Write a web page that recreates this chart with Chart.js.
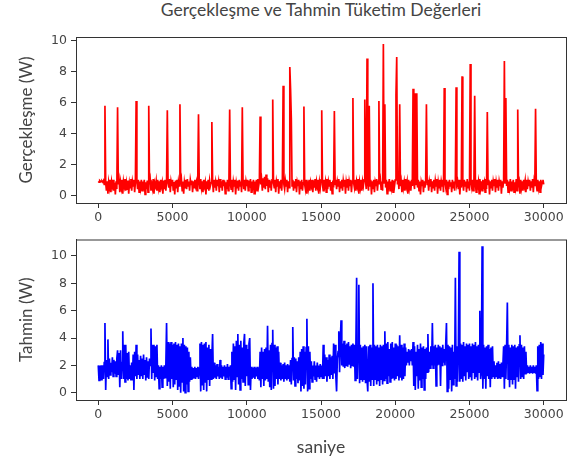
<!DOCTYPE html>
<html>
<head>
<meta charset="utf-8">
<script src="https://cdn.jsdelivr.net/npm/chart.js@4.4.1/dist/chart.umd.min.js"></script>
<style>
  body { margin: 0; background: #fff; }
  #wrap { position: relative; width: 569px; height: 461px; }
  #title {
    position: absolute; left: 76px; width: 490px; top: -1px;
    text-align: center; font: 17.5px Lato, "Open Sans", sans-serif; color: #444;
  }
  canvas { position: absolute; left: 0; }
  #realChart { top: 0; }
  #predChart { top: 228px; }
</style>
</head>
<body>
<div id="wrap">
  <div id="title">Gerçekleşme ve Tahmin Tüketim Değerleri</div>
  <canvas id="realChart" width="569" height="228"></canvas>
  <canvas id="predChart" width="569" height="233"></canvas>
</div>
<script>
// Data: one sample every 50 s (20 per row = 1000 s)
const STEP = 50;

const realValues = [
  0.9, 0.85, 0.95, 0.9, 0.88, 0.92, 0.85, 0.95, 0.7, 5.8, 0.8, 0.3, 0.9, 0.1, 0.85, 0.5, 1.0, 0.2, 0.9, 0.6,
  1.0, 0.3, 0.8, 0.05, 0.9, 0.4, 5.7, 0.7, 1.0, 0.2, 0.85, 0.5, 1.0, 0.1, 0.9, 0.6, 1.05, 0.3, 0.8, 0.4,
  0.95, 0.1, 0.8, 0.5, 1.05, 0.3, 0.9, 0.6, 1.0, 0.2, 0.85, 6.1, 0.9, 0.4, 1.0, 0.2, 0.9, 0.5, 1.0, 0.3,
  0.9, 0.6, 1.0, 0.05, 0.85, 0.4, 0.95, 0.2, 5.8, 0.7, 1.0, 0.3, 0.9, 0.5, 1.05, 0.1, 0.8, 0.6, 0.95, 0.3,
  1.0, 0.5, 0.9, 0.2, 1.0, 0.6, 0.85, 0.1, 0.95, 0.4, 1.0, 0.3, 0.9, 5.5, 0.8, 0.5, 1.05, 0.2, 0.9, 0.6,
  1.0, 0.3, 0.85, 0.05, 0.95, 0.5, 1.0, 0.2, 0.9, 0.6, 5.9, 0.7, 1.0, 0.3, 0.9, 0.1, 0.85, 0.5, 1.0, 0.4,
  1.05, 0.6, 0.9, 0.3, 1.0, 0.7, 0.95, 0.2, 0.9, 0.5, 1.0, 0.6, 0.85, 0.3, 1.0, 5.25, 0.8, 0.4, 1.05, 0.5,
  0.9, 0.2, 1.0, 0.6, 0.85, 0.05, 0.9, 0.4, 1.0, 0.3, 0.95, 0.6, 0.8, 4.75, 0.9, 0.2, 1.0, 0.5, 0.85, 0.3,
  1.0, 0.6, 0.9, 0.2, 1.05, 0.5, 0.9, 0.3, 1.0, 0.6, 0.95, 0.1, 0.85, 0.4, 1.0, 0.3, 0.9, 5.55, 0.7, 0.4,
  1.0, 0.2, 0.9, 0.6, 1.0, 0.05, 0.8, 0.5, 0.95, 0.3, 1.0, 0.6, 0.9, 0.2, 5.7, 0.8, 0.4, 1.0, 0.3, 0.9,
  0.6, 1.0, 0.3, 0.95, 0.5, 1.05, 0.2, 0.9, 0.6, 1.0, 0.1, 0.9, 0.5, 1.0, 0.3, 1.05, 0.6, 0.9, 5.1, 0.7,
  1.0, 0.3, 1.1, 0.5, 1.2, 0.4, 1.35, 0.6, 1.1, 0.2, 1.0, 0.5, 0.9, 0.3, 1.0, 6.2, 0.8, 0.5, 1.0, 0.2,
  0.9, 0.6, 1.05, 0.1, 0.9, 0.5, 1.0, 0.3, 1.05, 7.1, 0.7, 0.4, 0.95, 0.6, 1.0, 0.2, 0.9, 0.5, 8.3, 6.9,
  5.0, 0.6, 1.0, 0.3, 0.9, 0.5, 1.05, 0.2, 0.85, 0.6, 1.0, 0.05, 0.9, 0.4, 1.0, 0.3, 0.8, 5.75, 0.7, 0.4,
  1.0, 0.1, 0.9, 0.5, 1.0, 0.3, 0.85, 0.6, 1.0, 0.2, 0.95, 0.5, 1.05, 0.3, 0.9, 0.6, 1.0, 0.1, 0.85, 0.5,
  1.0, 5.5, 0.7, 0.3, 1.0, 0.6, 0.9, 0.2, 1.05, 0.4, 0.9, 0.6, 1.0, 0.3, 0.85, 0.1, 0.95, 0.5, 5.45, 0.7,
  1.0, 0.4, 0.9, 0.6, 1.05, 0.2, 0.9, 0.5, 1.0, 0.3, 0.95, 0.6, 1.0, 0.1, 0.85, 0.5, 1.05, 0.3, 0.9, 0.6,
  1.0, 0.2, 0.9, 6.3, 0.8, 0.5, 1.0, 0.3, 0.9, 0.6, 1.05, 0.1, 0.85, 0.5, 1.0, 0.3, 0.9, 0.6, 1.0, 6.2,
  0.9, 0.4, 8.85, 0.8, 0.3, 5.8, 0.6, 1.0, 0.05, 0.9, 0.4, 1.0, 0.2, 0.85, 0.6, 1.05, 0.3, 0.9, 6.1, 0.7,
  1.0, 0.4, 0.9, 0.3, 9.8, 0.8, 5.9, 0.5, 1.0, 0.1, 0.9, 0.6, 1.05, 0.3, 0.9, 0.5, 1.0, 0.2, 0.95, 0.6,
  1.0, 6.5, 8.95, 0.7, 1.0, 0.4, 5.9, 0.6, 0.9, 0.2, 1.0, 0.5, 0.85, 0.3, 1.05, 0.6, 0.9, 0.1, 1.0, 0.5,
  0.9, 0.3, 1.0, 0.6, 6.9, 0.8, 0.4, 6.6, 0.7, 6.6, 0.5, 1.0, 0.3, 0.9, 0.05, 0.85, 0.6, 1.0, 0.2, 0.9,
  0.5, 1.0, 5.9, 0.7, 1.0, 0.3, 0.9, 0.6, 1.05, 0.2, 0.9, 0.5, 1.0, 0.3, 0.95, 0.6, 1.05, 0.1, 0.85, 0.5,
  1.0, 0.3, 0.9, 0.6, 1.0, 0.2, 6.95, 0.8, 0.5, 1.0, 0.05, 0.9, 0.4, 1.0, 0.6, 0.85, 0.2, 1.0, 0.5, 0.9,
  0.3, 1.0, 7.0, 0.7, 0.9, 0.4, 1.0, 0.05, 0.85, 0.5, 7.7, 0.8, 0.3, 1.0, 0.6, 0.9, 0.2, 1.05, 0.5, 0.9,
  0.3, 8.5, 0.8, 0.5, 1.0, 0.3, 0.95, 6.45, 0.7, 0.2, 1.0, 0.6, 0.9, 0.1, 1.05, 0.5, 0.9, 0.3, 1.0, 0.6,
  0.85, 0.2, 1.05, 0.4, 5.4, 0.7, 1.0, 0.05, 0.9, 0.5, 1.0, 0.3, 0.9, 0.6, 1.05, 0.2, 0.85, 0.5, 1.0, 0.3,
  0.9, 0.6, 1.0, 0.1, 0.9, 0.5, 1.0, 8.7, 0.8, 6.3, 0.6, 1.0, 0.2, 0.9, 0.5, 1.05, 0.3, 0.9, 0.6, 1.0,
  0.2, 0.85, 0.5, 1.05, 0.3, 5.55, 0.7, 0.9, 0.1, 1.0, 0.5, 0.9, 0.3, 1.0, 0.6, 0.95, 0.2, 1.0, 0.4, 0.9,
  0.6, 1.0, 0.3, 0.9, 0.5, 1.05, 0.2, 0.9, 0.6, 5.6, 0.7, 0.3, 1.0, 0.5, 0.9, 0.2, 1.0, 0.6, 0.85, 1.0,
  0.7
];

const predValues = [
  2.0, 0.9, 2.0, 0.9, 2.0, 0.9, 2.0, 1.0, 2.2, 5.1, 0.2, 2.4, 1.2, 3.9, 1.0, 2.5, 1.3, 2.2, 1.5, 2.6,
  1.2, 2.4, 1.4, 2.3, 1.2, 2.5, 3.1, 1.3, 2.9, 0.4, 3.1, 1.0, 2.2, 4.5, 1.0, 3.5, 0.8, 3.5, 1.0, 2.9,
  0.9, 3.0, 1.0, 2.0, 0.9, 2.2, 0.9, 2.8, 0.2, 3.0, 1.2, 3.5, 1.0, 2.8, 1.3, 2.4, 1.0, 2.7, 1.2, 2.5,
  1.0, 2.8, 1.3, 2.4, 0.9, 2.6, 1.1, 2.3, 1.0, 2.5, 2.0, 4.7, 1.0, 3.5, 1.5, 3.5, 0.9, 3.4, 1.2, 3.5,
  1.0, 2.0, 0.3, 1.9, 1.0, 2.0, 0.4, 1.9, 1.0, 2.0, 1.1, 1.9, 5.1, 0.5, 3.7, 0.8, 3.6, 0.3, 3.7, 1.0,
  3.5, 0.4, 3.6, 0.6, 3.7, 1.0, 3.5, 0.2, 3.6, 0.5, 3.4, 0.0, 3.6, 0.8, 4.0, 0.1, 3.5, 0.0, 3.4, 0.6,
  3.3, 0.1, 3.0, 0.8, 2.6, 1.0, 1.9, 1.0, 1.8, 1.1, 1.9, 1.0, 1.8, 1.2, 1.9, 1.0, 1.8, 3.6, 0.1, 3.7,
  0.6, 3.5, 0.2, 3.6, 0.8, 3.7, 0.1, 3.3, 1.0, 3.5, 0.5, 3.2, 1.0, 2.6, 4.3, 1.0, 2.2, 1.1, 2.0, 1.0,
  2.1, 1.2, 1.9, 1.0, 2.4, 1.1, 2.0, 1.0, 1.9, 1.2, 2.0, 1.0, 1.9, 1.1, 2.1, 1.0, 1.9, 1.2, 2.0, 0.3,
  3.0, 0.8, 3.6, 1.0, 3.4, 0.2, 3.8, 1.2, 4.3, 0.6, 3.5, 0.2, 3.8, 1.0, 3.3, 0.8, 3.6, 4.3, 0.5, 3.5,
  1.2, 3.2, 0.6, 3.6, 4.0, 0.2, 1.9, 1.0, 1.8, 1.1, 1.9, 1.0, 1.8, 1.2, 1.9, 1.0, 1.8, 0.9, 3.0, 0.4,
  3.3, 1.0, 3.0, 0.5, 3.2, 0.9, 3.3, 1.0, 4.9, 0.8, 3.1, 0.4, 3.5, 0.2, 3.6, 4.6, 0.3, 3.5, 0.5, 3.3,
  1.0, 3.4, 0.6, 3.0, 1.0, 2.2, 0.9, 2.0, 1.0, 2.1, 0.8, 2.2, 1.0, 2.0, 0.9, 2.1, 1.0, 2.0, 0.8, 2.4,
  0.6, 2.5, 4.8, 0.9, 2.6, 0.5, 2.5, 1.0, 2.3, 0.7, 2.6, 0.9, 3.0, 0.1, 3.2, 0.5, 3.4, 0.3, 3.0, 0.6,
  3.3, 5.4, 0.1, 3.4, 0.3, 3.0, 1.0, 2.3, 0.8, 2.0, 1.2, 2.3, 1.0, 2.0, 0.8, 2.2, 1.2, 2.0, 1.0, 2.1,
  1.2, 2.0, 1.0, 3.5, 1.0, 2.8, 1.2, 2.6, 0.8, 2.4, 1.2, 2.8, 1.0, 2.6, 1.3, 2.7, 1.0, 3.6, 1.4, 3.5,
  1.2, 0.1, 2.5, 3.0, 4.5, 1.5, 3.8, 5.3, 2.0, 3.6, 1.9, 3.8, 1.8, 3.5, 2.0, 3.6, 1.9, 3.7, 2.1, 3.4,
  1.8, 3.5, 2.0, 3.6, 1.9, 3.5, 0.9, 3.3, 8.4, 1.0, 3.4, 7.9, 0.7, 3.5, 1.0, 3.3, 0.8, 3.4, 1.0, 3.5,
  0.7, 3.4, 1.0, 0.1, 3.4, 0.8, 3.5, 0.5, 3.3, 1.0, 8.0, 0.5, 3.5, 1.0, 3.4, 0.6, 3.5, 0.9, 3.3, 0.5,
  3.5, 1.0, 3.4, 0.6, 3.5, 0.9, 4.5, 1.0, 3.6, 0.7, 3.7, 1.2, 3.2, 0.8, 3.6, 1.0, 3.7, 1.1, 3.3, 0.9,
  3.6, 1.0, 3.5, 1.2, 3.4, 0.9, 4.2, 1.1, 3.5, 0.9, 3.3, 1.0, 3.6, 1.2, 3.3, 2.0, 3.0, 2.2, 3.2, 2.0,
  3.1, 2.3, 3.2, 2.0, 3.7, 0.5, 3.4, 0.2, 3.0, 1.2, 3.5, 0.3, 3.2, 0.9, 3.6, 0.4, 3.3, 1.0, 3.4, 0.2,
  3.2, 1.0, 3.3, 1.5, 4.3, 1.5, 3.0, 1.8, 3.4, 2.0, 5.1, 1.8, 3.4, 2.0, 3.5, 0.5, 3.3, 2.0, 3.5, 2.1,
  3.4, 0.5, 3.3, 2.0, 3.5, 2.2, 3.2, 2.0, 3.5, 5.1, 0.1, 3.5, 0.3, 3.4, 1.0, 3.3, 0.1, 3.5, 0.6, 3.0,
  1.0, 8.4, 0.5, 3.4, 0.8, 3.0, 10.3, 0.8, 3.6, 1.0, 3.5, 0.8, 3.7, 1.2, 3.4, 0.9, 3.6, 1.5, 3.5, 1.0,
  3.6, 1.2, 3.4, 0.9, 3.6, 1.5, 3.5, 1.0, 3.7, 1.2, 3.4, 0.9, 3.5, 1.5, 6.0, 1.0, 1.5, 10.7, 0.3, 3.5,
  1.0, 3.3, 0.3, 3.4, 1.2, 3.5, 1.0, 3.2, 0.4, 3.3, 1.0, 3.4, 1.2, 2.3, 1.0, 2.0, 1.2, 2.2, 1.0, 2.3,
  1.1, 2.1, 1.0, 2.2, 1.2, 2.0, 3.4, 0.3, 3.5, 1.0, 3.3, 6.6, 1.0, 3.5, 0.4, 3.3, 1.0, 3.5, 0.6, 3.4,
  1.0, 3.5, 0.3, 3.3, 1.2, 3.4, 0.8, 3.5, 4.2, 1.0, 3.5, 1.2, 3.3, 1.0, 3.4, 1.4, 3.0, 1.4, 2.0, 1.5,
  1.9, 1.4, 2.0, 1.5, 1.9, 1.4, 2.0, 1.5, 1.9, 1.4, 2.0, 0.15, 3.4, 1.0, 3.5, 1.2, 3.7, 1.0, 3.6, 1.3,
  2.8
];

const seconds = realValues.map((_, i) => i * STEP);
const xTicks = [0, 5000, 10000, 15000, 20000, 25000, 30000];
const realTicks = [0, 2, 4, 6, 8, 10];
const predTicks = [0, 2, 4, 6, 8, 10];

const AXIS_COLOR = "#333";
const TEXT_COLOR = "#444";

// Draws the full box round the plot area
const framePlugin = {
  id: "frame",
  afterDraw(chart) {
    const { ctx, chartArea: a } = chart;
    ctx.save();
    ctx.strokeStyle = AXIS_COLOR;
    ctx.lineWidth = 1;
    ctx.strokeRect(a.left + 0.5, a.top + 0.5, a.right - a.left, a.bottom - a.top);
    ctx.restore();
  },
};

const makeChart = (elementId, values, color, yLabel, yTicks, yMin, yMax, opts) => {
  const ctx = document.getElementById(elementId).getContext("2d");
  return new Chart(ctx, {
    type: "line",
    data: {
      datasets: [
        {
          data: values.map((v, i) => ({ x: seconds[i], y: v })),
          borderColor: color,
          borderWidth: 1.7,
          pointRadius: 0,
          tension: 0,
        },
      ],
    },
    options: {
      responsive: false,
      animation: false,
      events: [],
      layout: { padding: { left: 0, right: 3, top: opts.top, bottom: 0 } },
      plugins: { legend: { display: false }, tooltip: { enabled: false } },
      scales: {
        x: {
          type: "linear",
          min: -1500,
          max: 31500,
          afterBuildTicks: (scale) => {
            scale.ticks = xTicks.map((v) => ({ value: v }));
          },
          afterFit: (scale) => {
            scale.height = opts.xHeight;
          },
          grid: { drawOnChartArea: false, drawTicks: true, tickLength: 5, color: AXIS_COLOR },
          border: { display: true, color: AXIS_COLOR },
          ticks: {
            color: TEXT_COLOR,
            font: { family: "DejaVu Sans", size: 12.5 },
            padding: 2,
            maxRotation: 0,
            autoSkip: false,
            callback: (v) => String(v),
          },
          title: {
            display: !!opts.xTitle,
            text: opts.xTitle || "",
            color: TEXT_COLOR,
            font: { family: "Lato", size: 17.5 },
            padding: { top: 0, bottom: 3 },
          },
        },
        y: {
          min: yMin,
          max: yMax,
          afterBuildTicks: (scale) => {
            scale.ticks = yTicks.map((v) => ({ value: v }));
          },
          afterFit: (scale) => {
            scale.width = 76;
          },
          grid: { drawOnChartArea: false, drawTicks: true, tickLength: 5, color: AXIS_COLOR },
          border: { display: true, color: AXIS_COLOR },
          ticks: {
            color: TEXT_COLOR,
            font: { family: "DejaVu Sans", size: 12.5 },
            padding: 4,
            callback: (v) => String(v),
          },
          title: {
            display: true,
            text: yLabel,
            color: TEXT_COLOR,
            font: { family: "Lato", size: 17 },
            padding: { top: 16, bottom: 0 },
          },
        },
      },
    },
    plugins: [framePlugin],
  });
};

makeChart("realChart", realValues, "#ff0000", "Gerçekleşme (W)", realTicks, -0.5, 10.25, {
  top: 37,
  xHeight: 25,
});

makeChart("predChart", predValues, "#0000ff", "Tahmin (W)", predTicks, -0.53, 11.2, {
  top: 7,
  xHeight: 61,
  xTitle: "saniye",
});
</script>
</body>
</html>
